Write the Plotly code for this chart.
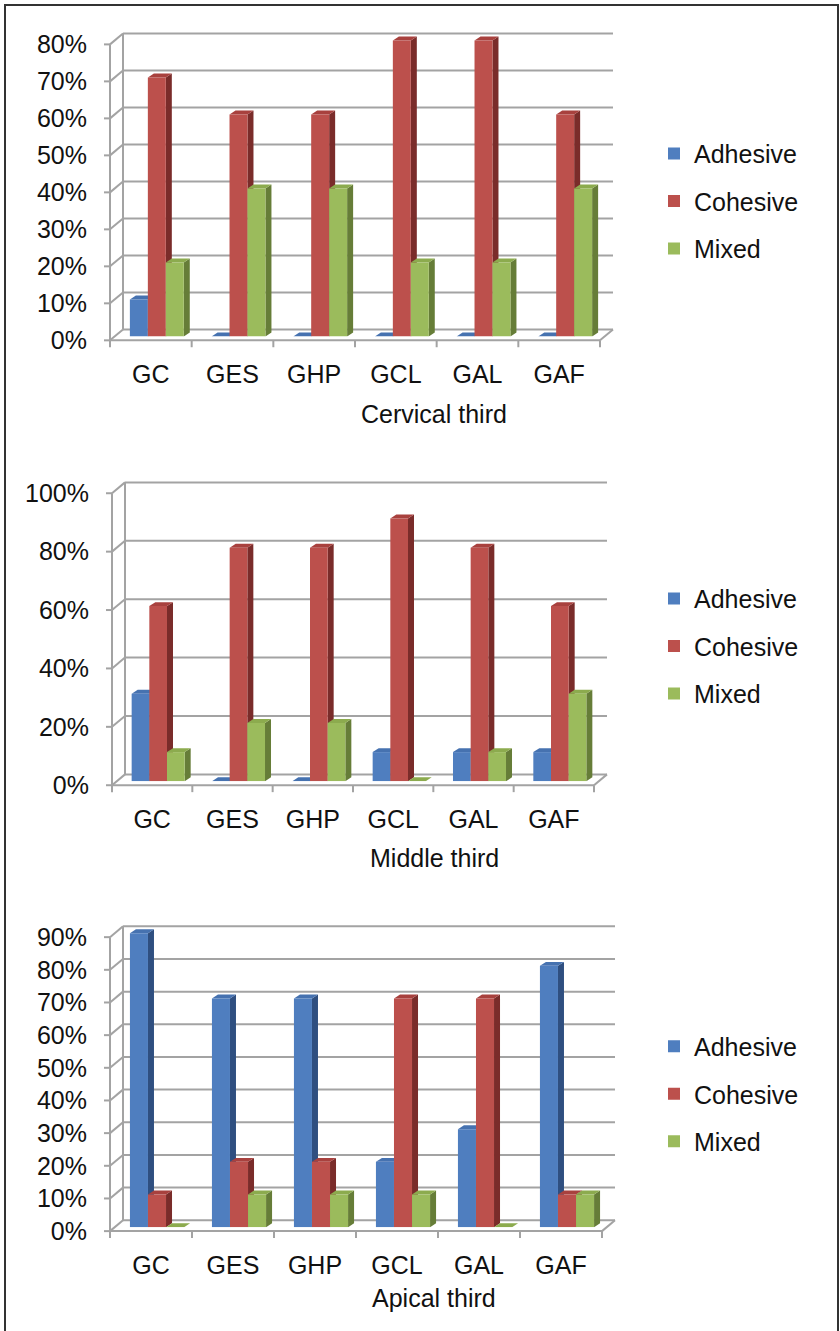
import plotly.graph_objects as go

W, H = 840, 1331

# ---------------- data ----------------
categories = ["GC", "GES", "GHP", "GCL", "GAL", "GAF"]
series_names = ["Adhesive", "Cohesive", "Mixed"]

cervical_adhesive = [10, 0, 0, 0, 0, 0]
cervical_cohesive = [70, 60, 60, 80, 80, 60]
cervical_mixed = [20, 40, 40, 20, 20, 40]

middle_adhesive = [30, 0, 0, 10, 10, 10]
middle_cohesive = [60, 80, 80, 90, 80, 60]
middle_mixed = [10, 20, 20, 0, 10, 30]

apical_adhesive = [90, 70, 70, 20, 30, 80]
apical_cohesive = [10, 20, 20, 70, 70, 10]
apical_mixed = [0, 10, 10, 10, 0, 10]

cervical_ticks = [0, 10, 20, 30, 40, 50, 60, 70, 80]
middle_ticks = [0, 20, 40, 60, 80, 100]
apical_ticks = [0, 10, 20, 30, 40, 50, 60, 70, 80, 90]

panel_titles = ["Cervical third", "Middle third", "Apical third"]

# ---------------- style ----------------
FONT = "Liberation Sans, Arial, sans-serif"
FS = 25
face_col = ["#4F7EBF", "#BC504C", "#9BBB5C"]
side_col = ["#2F4F80", "#7A2C2A", "#667D38"]
top_col = ["#4672B0", "#A8413E", "#8CAB4E"]
GRID = "#A3A3A3"

# front-plane frame of every panel in pixels (left, right, baseline, top-tick y)
frames = [
    dict(x0=110, x1=600, y0=345, y1=45),
    dict(x0=112, x1=594, y0=796, y1=500),
    dict(x0=110, x1=602, y0=1248, y1=950),
]
legend_y = [204, 655, 1109]
title_y = [420, 870, 1316]

BAR_DX, BAR_DY = 6, 4      # bar faces sit this far behind the front plane
DEPTH_DX, DEPTH_DY = 6, 4  # depth of each column
WALL_DX, WALL_DY = 13, 11  # back wall offset
BAR_W = 0.22               # column width in category units

panels = [
    ([cervical_adhesive, cervical_cohesive, cervical_mixed], cervical_ticks),
    ([middle_adhesive, middle_cohesive, middle_mixed], middle_ticks),
    ([apical_adhesive, apical_cohesive, apical_mixed], apical_ticks),
]


def px(x):
    return x / W


def py(y):
    return 1 - y / H


fig = go.Figure()
shapes = []
annotations = []
layout = {}


def gline(x0, y0, x1, y1):
    shapes.append(dict(type="line", xref="paper", yref="paper", layer="below",
                       x0=px(x0), x1=px(x1), y0=py(y0), y1=py(y1),
                       line=dict(color=GRID, width=2)))


for p, ((series, ticks), fr) in enumerate(zip(panels, frames)):
    n = "" if p == 0 else str(p + 1)
    top_val = ticks[-1]
    ppu = (fr["y0"] - fr["y1"]) / top_val          # pixels per percent
    cat_px = (fr["x1"] - fr["x0"]) / len(categories)
    pad = 14 / ppu                                  # headroom for the column tops
    # plotting plane = plane of the column faces
    bx0, bx1 = fr["x0"] + BAR_DX, fr["x1"] + BAR_DX
    by0 = fr["y0"] - BAR_DY
    by1 = by0 - (top_val + pad) * ppu
    layout["xaxis" + n] = dict(
        domain=[px(bx0), px(bx1)], range=[-0.5, len(categories) - 0.5],
        anchor="y" + n, tickvals=list(range(len(categories))), ticktext=categories,
        showgrid=False, zeroline=False, showline=False, ticks="",
        ticklabelshift=-BAR_DX, ticklabelstandoff=21,
        tickfont=dict(family=FONT, size=FS, color="#111"), fixedrange=True,
    )
    layout["yaxis" + n] = dict(
        domain=[py(by0), py(by1)], range=[0, top_val + pad],
        anchor="x" + n, tickvals=ticks, ticktext=[f"{t}%" for t in ticks],
        showgrid=False, zeroline=False, showline=False, ticks="",
        ticklabelshift=BAR_DY, ticklabelstandoff=28,
        tickfont=dict(family=FONT, size=FS, color="#111"), fixedrange=True,
    )

    # back wall grid, left wall diagonals and front axis
    for t in ticks:
        fy = fr["y0"] - t * ppu
        gline(fr["x0"] + WALL_DX, fy - WALL_DY, fr["x1"] + WALL_DX, fy - WALL_DY)
        gline(fr["x0"], fy, fr["x0"] + WALL_DX, fy - WALL_DY)
        gline(fr["x0"] - 6, fy, fr["x0"], fy)
    gline(fr["x0"], fr["y0"], fr["x0"], fr["y1"])
    gline(fr["x0"] + WALL_DX, fr["y0"] - WALL_DY, fr["x0"] + WALL_DX, fr["y1"] - WALL_DY)
    # floor
    gline(fr["x0"], fr["y0"], fr["x1"], fr["y0"])
    gline(fr["x1"], fr["y0"], fr["x1"] + WALL_DX, fr["y0"] - WALL_DY)
    for k in range(len(categories) + 1):
        xk = fr["x0"] + k * cat_px
        gline(xk, fr["y0"], xk, fr["y0"] + 7)

    # columns: front faces are bar traces, sides and tops are drawn behind them
    ddx = DEPTH_DX / cat_px
    ddy = DEPTH_DY / ppu
    for s, vals in enumerate(series):
        off = (s - 1.5) * BAR_W
        fig.add_trace(go.Bar(
            x=list(range(len(categories))), y=vals, width=BAR_W, offset=off,
            name=series_names[s], marker=dict(color=face_col[s], line=dict(width=0)),
            xaxis="x" + n, yaxis="y" + n, legend="legend" + n,
            legendgroup=series_names[s] + n,
        ))
        for i, v in enumerate(vals):
            xl = i + off
            xr = xl + BAR_W
            side = f"M{xr},0 L{xr + ddx},{ddy} L{xr + ddx},{v + ddy} L{xr},{v} Z"
            top = f"M{xl},{v} L{xr},{v} L{xr + ddx},{v + ddy} L{xl + ddx},{v + ddy} Z"
            shapes.append(dict(type="path", xref="x" + n, yref="y" + n, layer="below",
                               path=side, fillcolor=side_col[s], line=dict(width=0)))
            shapes.append(dict(type="path", xref="x" + n, yref="y" + n, layer="below",
                               path=top, fillcolor=top_col[s], line=dict(width=0)))

    layout["legend" + n] = dict(
        x=px(654), y=py(legend_y[p]), xanchor="left", yanchor="middle",
        font=dict(family=FONT, size=FS, color="#111"), bgcolor="rgba(0,0,0,0)",
        tracegroupgap=12, itemclick=False, itemdoubleclick=False,
    )
    annotations.append(dict(
        text=panel_titles[p], xref="paper", yref="paper", x=px(434), y=py(title_y[p]),
        xanchor="center", yanchor="middle", showarrow=False,
        font=dict(family=FONT, size=FS, color="#111"),
    ))

# outer frame (open at the bottom edge of the page)
shapes.append(dict(type="rect", xref="paper", yref="paper", layer="above",
                   x0=px(5), x1=px(838), y0=py(5), y1=py(H + 40),
                   line=dict(color="#333", width=2)))

fig.update_layout(
    width=W, height=H, margin=dict(l=0, r=0, t=0, b=0),
    paper_bgcolor="white", plot_bgcolor="rgba(0,0,0,0)",
    barmode="overlay", showlegend=True,
    shapes=shapes, annotations=annotations,
    font=dict(family=FONT, size=FS, color="#111"),
    **layout,
)

fig.write_html("out.html")
